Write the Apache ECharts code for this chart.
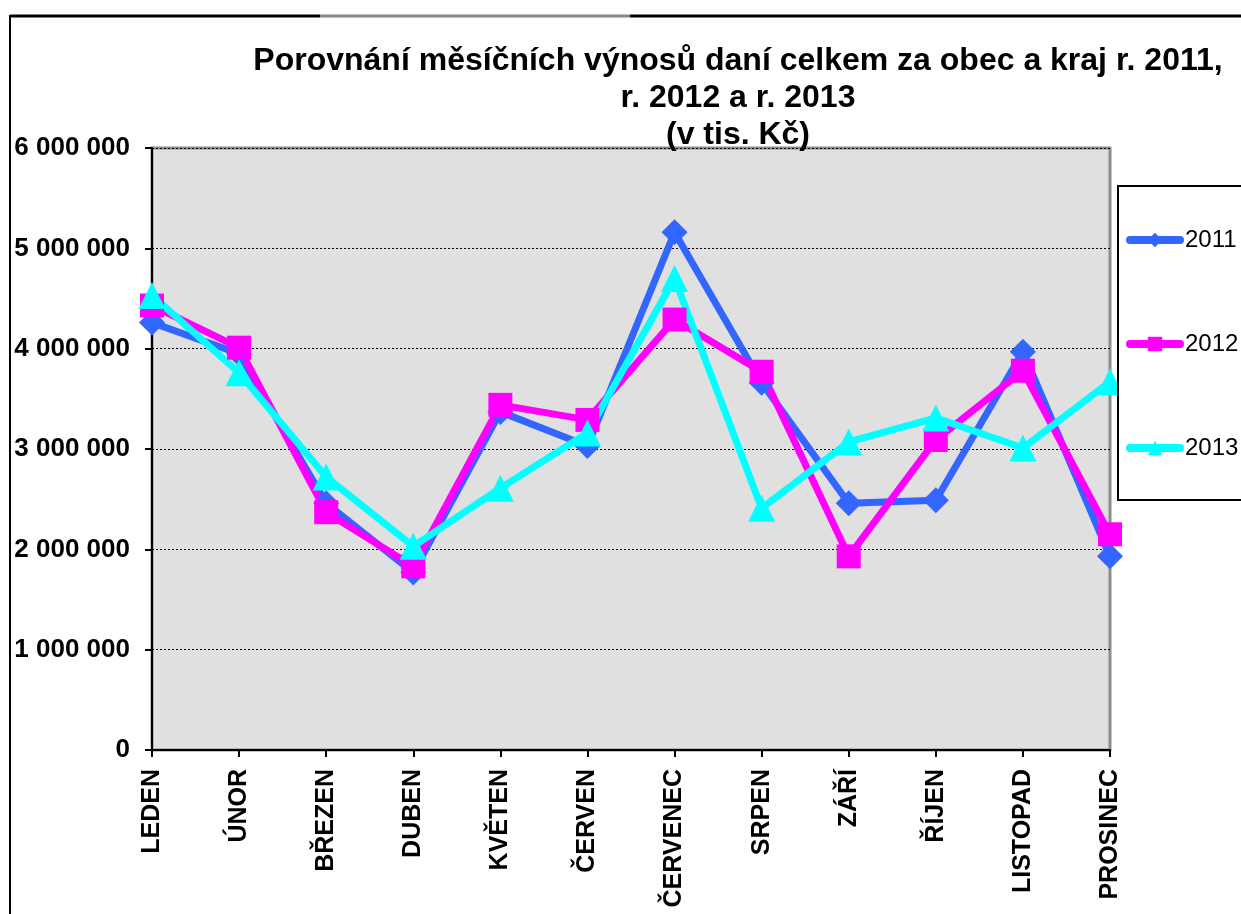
<!DOCTYPE html>
<html>
<head>
<meta charset="utf-8">
<script src="https://cdn.jsdelivr.net/npm/echarts@6/dist/echarts.min.js"></script>
<style>
  html, body { margin: 0; padding: 0; background: #fff; }
  #chart { width: 1241px; height: 914px; }
</style>
</head>
<body>
<div id="chart"></div>
<script>
const months = ['LEDEN', 'ÚNOR', 'BŘEZEN', 'DUBEN', 'KVĚTEN', 'ČERVEN', 'ČERVENEC', 'SRPEN', 'ZÁŘÍ', 'ŘÍJEN', 'LISTOPAD', 'PROSINEC']
const y2011 = [4260000, 3950000, 2460000, 1770000, 3370000, 3030000, 5160000, 3660000, 2460000, 2490000, 3970000, 1930000]
const y2012 = [4430000, 4010000, 2370000, 1830000, 3440000, 3290000, 4290000, 3770000, 1930000, 3090000, 3780000, 2150000]
const y2013 = [4530000, 3760000, 2720000, 2030000, 2610000, 3160000, 4700000, 2410000, 3070000, 3310000, 3010000, 3670000]
const yTicks = [0, 1000000, 2000000, 3000000, 4000000, 5000000, 6000000]

;(function () {
  const font = '"Liberation Sans", Arial, sans-serif'

  function formatThousands(v) {
    return String(v).replace(/\B(?=(\d{3})+(?!\d))/g, ' ')
  }

  function lineSeries(name, data, color, symbol, size) {
    return {
      name,
      type: 'line',
      data,
      symbol,
      symbolSize: size,
      showSymbol: true,
      lineStyle: { color, width: 7 },
      itemStyle: { color, borderColor: color, borderWidth: 0 },
      emphasis: { disabled: true },
    }
  }

  const chart = echarts.init(document.getElementById('chart'))
  chart.setOption({
    animation: false,
    backgroundColor: '#fff',
    title: {
      text: 'Porovnání měsíčních výnosů daní celkem za obec a kraj r. 2011,\nr. 2012 a r. 2013\n(v tis. Kč)',
      left: 738,
      top: 43,
      padding: 0,
      textAlign: 'center',
      textStyle: { fontFamily: font, fontSize: 32, fontWeight: 'bold', color: '#000', lineHeight: 37 },
    },
    legend: {
      orient: 'vertical',
      left: 1118,
      top: 186,
      backgroundColor: '#fff',
      borderColor: '#000',
      borderWidth: 2,
      padding: [42, 40, 40, 8],
      itemGap: 80,
      itemWidth: 50,
      itemHeight: 18,
      lineStyle: { width: 8, cap: 'round' },
      textStyle: { fontFamily: font, fontSize: 24, color: '#000' },
      data: ['2011', '2012', '2013'],
    },
    grid: {
      left: 152,
      right: 131,
      top: 148,
      bottom: 164,
      show: true,
      backgroundColor: '#e0e0e0',
      borderColor: '#8c8c8c',
      borderWidth: 3,
    },
    xAxis: {
      type: 'category',
      data: months,
      boundaryGap: false,
      axisLine: { lineStyle: { color: '#000', width: 2 } },
      axisTick: { show: true, inside: false, length: 7, lineStyle: { color: '#000', width: 2 } },
      axisLabel: { rotate: 90, margin: 19, fontFamily: font, fontSize: 25, fontWeight: 'bold', color: '#000', interval: 0 },
      splitLine: { show: false },
    },
    yAxis: {
      type: 'value',
      min: yTicks[0],
      max: yTicks[yTicks.length - 1],
      interval: yTicks[1] - yTicks[0],
      axisLine: { show: true, lineStyle: { color: '#000', width: 2 } },
      axisTick: { show: true, length: 7, lineStyle: { color: '#000', width: 2 } },
      axisLabel: { margin: 22, fontFamily: font, fontSize: 26, fontWeight: 'bold', color: '#000', formatter: formatThousands },
      splitLine: { show: true, lineStyle: { color: '#000', width: 1, type: [2, 2] } },
    },
    graphic: [
      { type: 'line', shape: { x1: 10, y1: 15, x2: 10, y2: 914 }, style: { stroke: '#000', lineWidth: 2 } },
      { type: 'line', shape: { x1: 10, y1: 16, x2: 320, y2: 16 }, style: { stroke: '#000', lineWidth: 3 } },
      { type: 'line', shape: { x1: 320, y1: 16, x2: 630, y2: 16 }, style: { stroke: '#888', lineWidth: 3 } },
      { type: 'line', shape: { x1: 630, y1: 16, x2: 1241, y2: 16 }, style: { stroke: '#000', lineWidth: 3 } },
    ],
    series: [
      lineSeries('2011', y2011, '#3366ff', 'diamond', 26),
      lineSeries('2012', y2012, '#ff00ff', 'rect', 24),
      lineSeries('2013', y2013, '#00ffff', 'triangle', 27),
    ],
  })
})()
</script>
</body>
</html>
